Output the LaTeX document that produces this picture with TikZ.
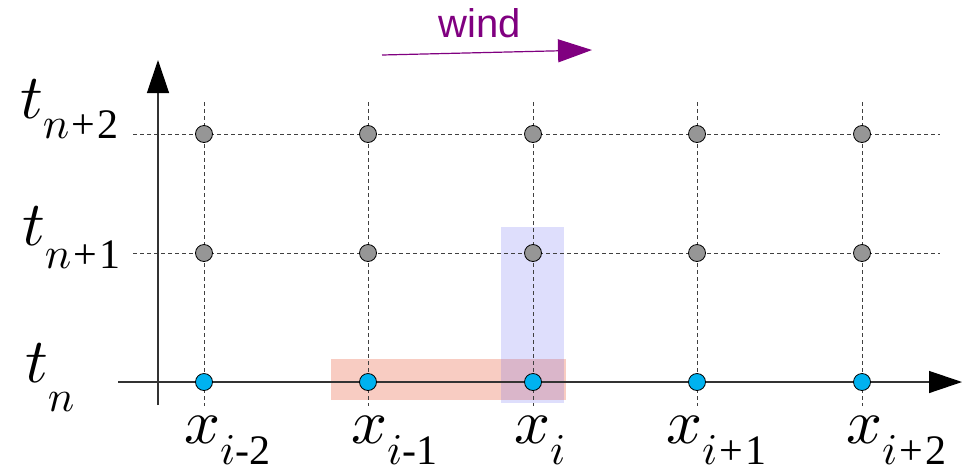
\documentclass[tikz,border=0pt]{standalone}
\usepackage{graphicx}
\usepackage{fontspec}
\setmainfont{Liberation Serif}
\newfontfamily\windfont{Liberation Sans}
\usetikzlibrary{arrows.meta}

\definecolor{windpurple}{RGB}{128,0,128}
\definecolor{dotgray}{RGB}{150,150,150}
\definecolor{dotblue}{RGB}{0,178,240}
\definecolor{redband}{RGB}{248,204,194}
\definecolor{blueband}{RGB}{222,222,252}
\definecolor{bothband}{RGB}{218,182,202}

% italic letters (math italic, scaled up from 10pt)
\newcommand{\bigvar}[1]{\scalebox{6.3}{\normalsize$#1$}}
\newcommand{\subvar}[1]{\scalebox{4.4}{\normalsize$#1$}}
% letter with a lowered subscript
\newcommand{\gridlab}[3][21pt]{\bigvar{#2}\raisebox{-#1}{\fontsize{42}{44}\selectfont #3}}
\newcommand{\op}[1]{\hspace{2pt}#1\hspace{2pt}}

\tikzset{
  grid line/.style={dash pattern=on 4pt off 3pt, line width=0.9pt, black!75},
  axis line/.style={line width=1.3pt, black!80, -{Triangle[length=33pt,width=22pt,black]}},
  old dot/.style={circle, draw=black, line width=0.8pt, fill=dotgray, minimum size=17pt, inner sep=0pt},
  new dot/.style={old dot, fill=dotblue},
  lab/.style={inner sep=0pt, anchor=base west}
}

\begin{document}
\begin{tikzpicture}[x=1pt,y=-1pt]
  \useasboundingbox (0,0) rectangle (968,469);

  % Stencil bands
  \fill[redband] (331,359) rectangle (566,400);
  \fill[blueband] (501,227) rectangle (564,403);
  \fill[bothband] (501,359) rectangle (564,400);

  % Grid lines
  \foreach \i/\x in {1/204,2/368,3/533,4/697,5/862} {
    \coordinate (c\i top) at (\x,102);
    \coordinate (c\i bot) at (\x,406);
    \draw[grid line] (c\i top) -- (c\i bot);
  }
  \foreach \r/\y in {2/134,1/253} {
    \coordinate (r\r left) at (133,\y);
    \coordinate (r\r right) at (940,\y);
    \draw[grid line] (r\r left) -- (r\r right);
  }

  % Axes
  \coordinate (x start) at (118,382);
  \coordinate (x end) at (962,382);
  \coordinate (t start) at (158,405);
  \coordinate (t end) at (158,60);
  \draw[axis line] (x start) -- (x end);
  \draw[axis line] (t start) -- (t end);

  % Grid points
  \foreach \i/\x in {1/204,2/368,3/533,4/697,5/862} {
    \node[new dot] (p\i-0) at (\x,382) {};
    \node[old dot] (p\i-1) at (\x,253) {};
    \node[old dot] (p\i-2) at (\x,134) {};
  }

  % Time labels
  \node[lab] (tn2) at (20,118) {\gridlab[20pt]{t}{\subvar{n}\op{+}2}};
  \node[lab] (tn1) at (22,245) {\gridlab[23pt]{t}{\subvar{n}\op{+}1}};
  \node[lab] (tn0) at (25,382) {\gridlab[29pt]{t}{\subvar{n}}};

  % Space labels
  \node[lab] (xm2) at (184,443) {\gridlab{x}{\subvar{i}-2}};
  \node[lab] (xm1) at (351,443) {\gridlab{x}{\subvar{i}-1}};
  \node[lab] (x0)  at (514,443) {\gridlab{x}{\subvar{i}}};
  \node[lab] (xp1) at (666,443) {\gridlab{x}{\subvar{i}\op{+}1}};
  \node[lab] (xp2) at (846,443) {\gridlab{x}{\subvar{i}\op{+}2}};

  % Wind
  \coordinate (wind start) at (382,55);
  \coordinate (wind end) at (592,50);
  \draw[windpurple, line width=1.2pt, -{Triangle[length=34pt,width=23pt]}] (wind start) -- (wind end);
  \node[inner sep=0pt, anchor=base, text=windpurple, font=\windfont\fontsize{40}{42}\selectfont] (wind) at (480,37) {wind};
\end{tikzpicture}
\end{document}
